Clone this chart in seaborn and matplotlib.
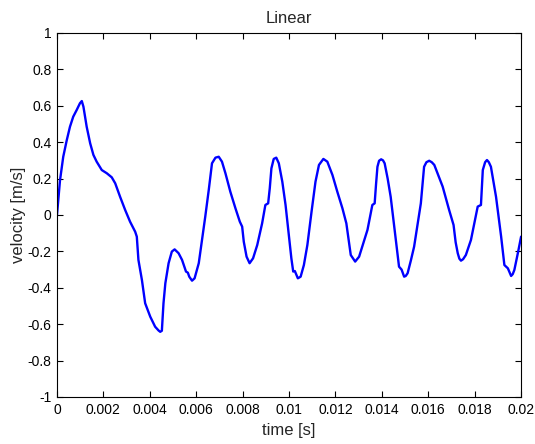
import numpy as np
import pandas as pd
import matplotlib
matplotlib.use("Agg")
import matplotlib.pyplot as plt
import seaborn as sns

# Sampled velocity trace
time_s = [
    0.0, 0.00013, 0.00027, 0.00042, 0.00056, 0.0007, 0.00085, 0.00099, 0.00107, 0.00114,
    0.00128, 0.00143, 0.00157, 0.00171, 0.00193, 0.00215, 0.00236, 0.00251, 0.00272, 0.00294,
    0.00315, 0.00337, 0.00344, 0.00351, 0.00366, 0.0038, 0.00402, 0.00423, 0.00438, 0.00445, 0.00452,
    0.00459, 0.00467, 0.00481, 0.00495, 0.00507, 0.00524, 0.00539, 0.00556, 0.00564, 0.0057,
    0.00582, 0.00593, 0.00611, 0.00625, 0.00639, 0.00654, 0.00668, 0.00683, 0.00697, 0.00711,
    0.00726, 0.00747, 0.00769, 0.00788, 0.00798, 0.00805, 0.00817, 0.0083, 0.00845, 0.00863,
    0.00884, 0.00898, 0.0091, 0.00917, 0.00924, 0.00934, 0.00945, 0.00956, 0.00971, 0.00985,
    0.00999, 0.0101, 0.01018, 0.01025, 0.01038, 0.0105, 0.01064, 0.01079, 0.01097, 0.01114,
    0.01129, 0.01148, 0.01165, 0.01187, 0.01208, 0.0123, 0.01247, 0.01256, 0.01266, 0.01285,
    0.01302, 0.01338, 0.01359, 0.01369, 0.01375, 0.01381, 0.01388, 0.01397, 0.01405, 0.01412,
    0.01425, 0.01438, 0.0146, 0.01474, 0.01485, 0.01496, 0.01503, 0.01511, 0.01525, 0.01539,
    0.01568, 0.01582, 0.01592, 0.01604, 0.01615, 0.01626, 0.01662, 0.0169, 0.01709, 0.01718,
    0.01727, 0.01734, 0.01741, 0.0175, 0.01762, 0.01784, 0.01813, 0.01827, 0.01835, 0.01845,
    0.01853, 0.01861, 0.0187, 0.01892, 0.01914, 0.01928, 0.01943, 0.01957, 0.01964, 0.01971,
    0.01986, 0.0200,
]
velocity = [
    0.0, 0.19, 0.32, 0.41, 0.485, 0.54, 0.577, 0.614, 0.626, 0.595,
    0.485, 0.394, 0.33, 0.293, 0.247, 0.229, 0.207, 0.174, 0.10, 0.027,
    -0.037, -0.092, -0.119, -0.247, -0.357, -0.485, -0.559, -0.614, -0.635, -0.642, -0.636,
    -0.485, -0.375, -0.265, -0.201, -0.189, -0.21, -0.247, -0.311, -0.317, -0.339,
    -0.361, -0.348, -0.265, -0.137, -0.009, 0.137, 0.284, 0.315, 0.32, 0.293,
    0.229, 0.128, 0.037, -0.037, -0.064, -0.147, -0.229, -0.265, -0.238, -0.165,
    -0.046, 0.055, 0.064, 0.147, 0.256, 0.308, 0.315, 0.284, 0.183, 0.055,
    -0.11, -0.238, -0.311, -0.308, -0.348, -0.339, -0.275, -0.165, 0.018, 0.183,
    0.275, 0.308, 0.293, 0.22, 0.128, 0.037, -0.046, -0.128, -0.22, -0.256,
    -0.229, -0.082, 0.055, 0.064, 0.17, 0.265, 0.298, 0.306, 0.30, 0.284,
    0.20, 0.10, -0.137, -0.284, -0.30, -0.339, -0.335, -0.32, -0.25, -0.174,
    0.064, 0.265, 0.29, 0.298, 0.29, 0.275, 0.156, 0.027, -0.055, -0.15,
    -0.21, -0.24, -0.251, -0.243, -0.22, -0.137, 0.046, 0.055, 0.247, 0.29,
    0.302, 0.29, 0.265, 0.10, -0.119, -0.275, -0.293, -0.335, -0.325, -0.302,
    -0.21, -0.119,
]

x_ticks = [0, 0.002, 0.004, 0.006, 0.008, 0.01, 0.012, 0.014, 0.016, 0.018, 0.02]
x_tick_labels = ["0", "0.002", "0.004", "0.006", "0.008", "0.01", "0.012", "0.014", "0.016", "0.018", "0.02"]
y_ticks = [-1, -0.8, -0.6, -0.4, -0.2, 0, 0.2, 0.4, 0.6, 0.8, 1]
y_tick_labels = ["-1", "-0.8", "-0.6", "-0.4", "-0.2", "0", "0.2", "0.4", "0.6", "0.8", "1"]

sns.set_style("white")
plt.rcParams["font.family"] = ["Liberation Sans", "DejaVu Sans"]

df = pd.DataFrame({"t": time_s, "v": velocity})

fig = plt.figure(figsize=(5.35, 4.44), dpi=100)
ax = fig.add_axes([0.1065, 0.1059, 0.8675, 0.8198])

sns.lineplot(data=df, x="t", y="v", ax=ax, color="#0000ff", linewidth=1.7,
             sort=False, estimator=None)

ax.set_xlim(0, 0.02)
ax.set_ylim(-1, 1)
ax.set_xticks(x_ticks)
ax.set_xticklabels(x_tick_labels)
ax.set_yticks(y_ticks)
ax.set_yticklabels(y_tick_labels)
ax.tick_params(direction="in", length=4, width=0.8, labelsize=10, colors="black",
               top=True, right=True, bottom=True, left=True, pad=4)
for s in ax.spines.values():
    s.set_visible(True)
    s.set_color("black")
    s.set_linewidth(0.8)

ax.set_xlabel("time [s]", fontsize=12, labelpad=5)
ax.set_ylabel("velocity [m/s]", fontsize=12, labelpad=1)
ax.set_title("Linear", fontsize=12, pad=7)

fig.savefig("out.png", dpi=100, facecolor="white")
